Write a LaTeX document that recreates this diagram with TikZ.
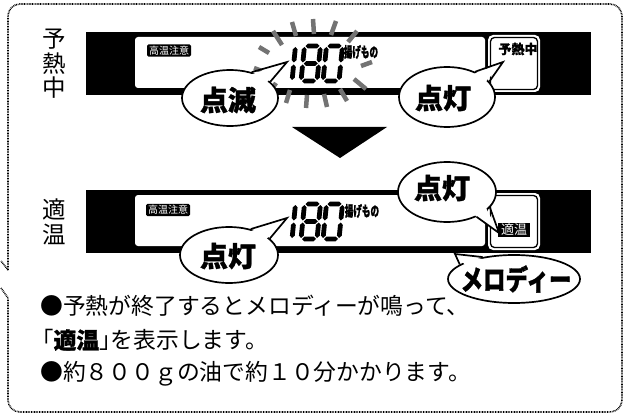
\documentclass[tikz,border=0pt]{standalone}
\usepackage{fontspec}
\setmainfont{Noto Sans CJK JP}[BoldFeatures={FakeBold=1.2}]
\usetikzlibrary{shapes.geometric,calc}
\newcommand{\hsg}[3]{\fill (#1,#3) -- ({#1+2.4},{#3-2.4}) -- ({#2-2.4},{#3-2.4}) -- (#2,#3) -- ({#2-2.4},{#3+2.4}) -- ({#1+2.4},{#3+2.4}) -- cycle;}
\newcommand{\vsg}[3]{\fill (#1,#2) -- ({#1+2.4},{#2+2.4}) -- ({#1+2.4},{#3-2.4}) -- (#1,#3) -- ({#1-2.4},{#3-2.4}) -- ({#1-2.4},{#2+2.4}) -- cycle;}
\newcommand{\dgeight}{\hsg{1}{15}{-35}\hsg{1}{15}{-17.5}\hsg{1}{15}{0}\vsg{0}{-34}{-18.5}\vsg{0}{-16.5}{-1}\vsg{16}{-34}{-18.5}\vsg{16}{-16.5}{-1}}
\newcommand{\dgzero}{\hsg{1}{15}{-35}\hsg{1}{15}{0}\vsg{0}{-34}{-18.5}\vsg{0}{-16.5}{-1}\vsg{16}{-34}{-18.5}\vsg{16}{-16.5}{-1}}
\newcommand{\dgone}{\vsg{0}{-34}{-18.5}\vsg{0}{-16.5}{-1}}
\newcommand{\oneeighty}[1]{%
  \begin{scope}[shift={(292,#1)},xslant=0.1]\dgone\end{scope}
  \begin{scope}[shift={(301,#1)},xslant=0.1]\dgeight\end{scope}
  \begin{scope}[shift={(323,#1)},xslant=0.1]\dgzero\end{scope}}
\newcommand{\bubtail}[4]{%
  \fill[white] ($(#1.#2)!0.12!(#1.center)$) -- (#4) -- ($(#1.#3)!0.12!(#1.center)$) -- cycle;
  \draw[tailline] (#1.#2) -- (#4) -- (#1.#3);}
\begin{document}
\begin{tikzpicture}[x=1pt,y=-1pt,
  frame/.style={draw=black, line width=1.6pt, dash pattern=on 0.8pt off 0.8pt},
  ray/.style={draw=black!55, line width=4.5pt},
  bub/.style={ellipse, draw, line width=1.7pt, fill=white, inner sep=0pt},
  btxt/.style={inner sep=0pt, font=\bfseries\fontsize{28}{28}\selectfont},
  tailline/.style={draw, line width=1.7pt, line join=miter},
  body/.style={inner sep=0pt, anchor=west, font=\fontsize{22.8}{24}\selectfont},
  vlabel/.style={inner sep=0pt, align=center, font=\fontsize{23.5}{24.5}\selectfont},
  tag/.style={fill=black, text=white, rounded corners=1.5pt, inner xsep=2pt, inner ysep=1.5pt, font=\fontsize{10}{10}\selectfont},
  small/.style={inner sep=0pt, font=\bfseries\fontsize{9}{9}\selectfont},
]
\useasboundingbox (0,0) rectangle (629,417);
% frame
\draw[frame, rounded corners=12] (8,270) -- (8,4) -- (622,4) -- (622,412) -- (8,412) -- (8,298);
\draw[frame] (8,270) -- (1,261);
\draw[frame] (1,288) -- (8,298);
% labels
\node[vlabel] (v1) at (54,64) {予\\熱\\中};
\node[vlabel] (v2) at (54,222) {適\\温};
% top display
\fill (86,32) rectangle (591,95);
\fill[white, rounded corners=3] (135,37) rectangle (485,88);
\fill[white, rounded corners=5] (488,35) rectangle (540,92);
\draw[line width=1.3pt, rounded corners=4] (490.5,37.5) rectangle (537.5,89.5);
% rays
\draw[ray] (259,47) -- (269,53);
\draw[ray] (273,31) -- (282,45);
\draw[ray] (292,22) -- (296,36);
\draw[ray] (313,19) -- (314,34);
\draw[ray] (336,21) -- (331,35);
\draw[ray] (357,31) -- (348,42);
\draw[ray] (361,66) -- (372,62);
\draw[ray] (354,79) -- (366,89);
\draw[ray] (340,89) -- (347,101);
\draw[ray] (324,94) -- (327,107);
\draw[ray] (307,95) -- (306,108);
\draw[ray] (290,90) -- (286,103);
\draw[ray] (276,83) -- (272,89);
\draw[ray] (254,68) -- (262,71);
\node[tag] (hi1) at (169,50.5) {高温注意};
\oneeighty{81}
\node[small] (ag1) at (361,52) {\scalebox{0.95}[1.6]{揚げもの}};
\node[small, font=\bfseries\fontsize{13}{13}\selectfont] (yo) at (518,49) {予熱中};
% bubbles top
\coordinate (t1) at (287,62);
\coordinate (t2) at (503,62);
\node[bub, minimum width=96, minimum height=56] (b1) at (230,98) {};
\bubtail{b1}{50}{22}{t1}
\node[btxt] (x1) at (228,100) {点滅};
\node[bub, minimum width=96, minimum height=60] (b2) at (447,97) {};
\bubtail{b2}{42}{20}{t2}
\node[btxt] (x2) at (443,98) {点灯};
% arrow
\fill (292,127) -- (387,127) -- (340,158) -- cycle;
% bottom display
\fill (86,190) rectangle (591,253);
\fill[white, rounded corners=3] (135,195) rectangle (485,246);
\fill[white, rounded corners=5] (488,193) rectangle (540,250);
\draw[line width=1.3pt, rounded corners=4] (490.5,195.5) rectangle (537.5,247.5);
\node[tag] (hi2) at (168,210) {高温注意};
\oneeighty{239}
\node[small] (ag2) at (362,211) {\scalebox{0.95}[1.6]{揚げもの}};
\node[tag, rounded corners=0pt, inner xsep=3pt, font=\fontsize{13}{13}\selectfont] (tk) at (514,230) {適温};
% bubbles bottom
\coordinate (t3) at (287,218);
\coordinate (t4) at (499,233);
\coordinate (t5) at (455,254);
\node[bub, minimum width=98, minimum height=56] (b3) at (229,255) {};
\bubtail{b3}{50}{22}{t3}
\node[btxt] (x3) at (228,256) {点灯};
\node[bub, minimum width=98, minimum height=60] (b4) at (447,192) {};
\bubtail{b4}{-20}{-40}{t4}
\node[btxt] (x4) at (442,188) {点灯};
\node[bub, minimum width=132, minimum height=48] (b5) at (514,279) {};
\bubtail{b5}{165}{145}{t5}
\node[btxt, font=\bfseries\fontsize{25}{25}\selectfont] (x5) at (516,279) {\scalebox{0.9}[1.12]{メロディー}};
% text
\node[body] (l1) at (40,306) {●予熱が終了するとメロディーが鳴って、};
\node[body] (l2) at (42,340) {｢{\bfseries 適温}｣を表示します。};
\node[body] (l3) at (40,374) {●約８００ｇの油で約１０分かかります。};
\end{tikzpicture}
\end{document}
